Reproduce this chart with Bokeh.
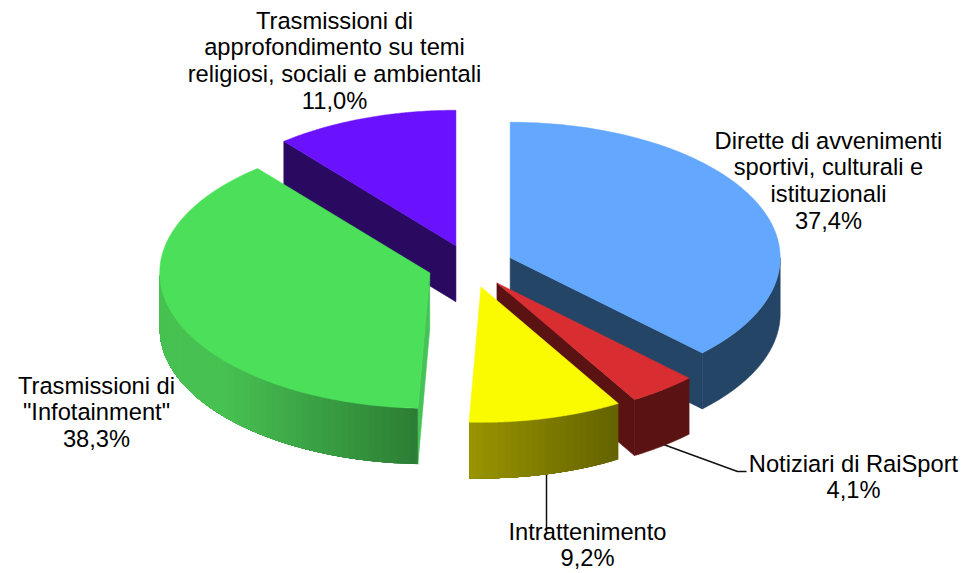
import numpy as np
from bokeh.plotting import figure
from bokeh.models import Range1d
from bokeh.core.properties import value
from bokeh.embed import file_html
from bokeh.resources import INLINE

# data
categories = ["Direzione", "Notiziari", "Intrattenimento", "Infotainment", "Approfondimento"]
values = [37.4, 4.1, 9.2, 38.3, 11.0]
top_colors = ["#63a7fe", "#d92e31", "#fbfb00", "#4ce05a", "#6a12fe"]
wall_left = ["#254566", "#5a1213", "#9a9400", "#47c151", "#290a60"]
wall_right = ["#254566", "#5a1213", "#636300", "#2b7d34", "#290a60"]
face_colors = ["#254566", "#5a1213", "#636300", "#45c455", "#290a60"]
label_lines = [
    ["Dirette di avvenimenti", "sportivi, culturali e", "istituzionali", "37,4%"],
    ["Notiziari di RaiSport", "4,1%"],
    ["Intrattenimento", "9,2%"],
    ['Trasmissioni di', '"Infotainment"', "38,3%"],
    ["Trasmissioni di", "approfondimento su temi", "religiosi, sociali e ambientali", "11,0%"],
]
label_x = [828, 853, 587, 96, 334]
label_y = [140, 463, 531, 385, 20]

# pie geometry, in page pixels
CX, CY, RX, RY, DEPTH, EXPLODE, SQUASH = 470, 265.5, 270, 135.5, 56, 43, 0.5
LINE_H = 26.8

p = figure(width=965, height=573, x_range=Range1d(0, 965), y_range=Range1d(573, 0),
           output_backend="svg", toolbar_location=None, min_border=0)
p.axis.visible = False
p.grid.visible = False
p.outline_line_color = None
p.background_fill_color = "white"
p.border_fill_color = "white"

# leader lines
p.line([663, 737, 746], [444, 471, 471], line_color="#111111", line_width=1.5)
p.line([546, 546], [470, 533], line_color="#111111", line_width=1.5)


def rgb(h):
    return np.array([int(h[i:i + 2], 16) for i in (1, 3, 5)], float)


def mix(a, b, t):
    c = rgb(a) * (1 - t) + rgb(b) * t
    return "#%02x%02x%02x" % tuple(int(round(v)) for v in c)


shares = np.array(values) / sum(values) * 360
starts = np.concatenate([[0], np.cumsum(shares)[:-1]])
ends = starts + shares

for i in [4, 3, 0, 1, 2]:
    a0, a1 = starts[i], ends[i]
    mid = np.radians((a0 + a1) / 2)
    cx = CX + EXPLODE * np.sin(mid)
    cy = CY - EXPLODE * np.cos(mid) * SQUASH

    def pt(a):
        r = np.radians(a)
        return cx + RX * np.sin(r), cy - RY * np.cos(r)

    # cut faces facing the viewer
    cuts = {0: [a1], 1: [a1], 3: [a0], 4: [a0]}.get(i, [])
    for a in cuts:
        ex, ey = pt(a)
        p.patch([cx, cx, ex, ex], [cy, cy + DEPTH, ey + DEPTH, ey],
                fill_color=face_colors[i], line_color=face_colors[i], line_width=0.6)

    # outer wall, only the part turned towards the viewer
    w0, w1 = max(a0, 90), min(a1, 270)
    if w1 > w0:
        flat = wall_left[i] == wall_right[i]
        if flat:
            edges = np.array([w0, w1])
        else:
            edges = np.linspace(w0, w1, max(2, int((w1 - w0) / 1.5)) + 1)
        xs_all = [pt(a)[0] for a in np.linspace(w0, w1, 60)]
        x_lo, x_hi = min(xs_all), max(xs_all)
        x_start = x_lo + (x_hi - x_lo) * 0.25 if i == 3 else x_lo
        # strips are painted from the far end and overlap, so no seams show
        for e0, e1 in zip(edges[:-1], edges[1:]):
            hi = edges[-1]
            arc = np.linspace(e0, hi, max(4, int(hi - e0) + 2))
            x, y = pt(arc)
            xm = pt((e0 + e1) / 2)[0]
            t = np.clip((xm - x_start) / (x_hi - x_start), 0, 1)
            col = mix(wall_left[i], wall_right[i], t)
            p.patch(list(x) + list(x[::-1]), list(y) + list((y + DEPTH)[::-1]),
                    fill_color=col, line_color=col if flat else None, line_width=0.6)

    # top face
    arc = np.linspace(a0, a1, 120)
    x, y = pt(arc)
    p.patch([cx] + list(x), [cy] + list(y), fill_color=top_colors[i],
            line_color=top_colors[i], line_width=0.5)

for lines, lx, ly in zip(label_lines, label_x, label_y):
    for k, s in enumerate(lines):
        p.text([lx], [ly + k * LINE_H], text=[s], text_align="center", text_baseline="middle",
               text_font=value("Liberation Sans"), text_font_size="23.7px", text_color="#000000")

open("out.html", "w").write(file_html(p, INLINE))
